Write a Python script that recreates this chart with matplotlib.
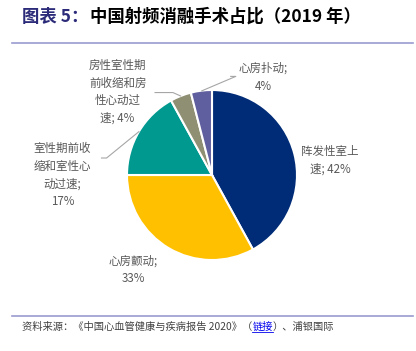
import matplotlib
matplotlib.use("Agg")
import matplotlib.pyplot as plt
from matplotlib.lines import Line2D

plt.rcParams['font.family'] = ['Noto Sans CJK SC', 'DejaVu Sans']

# data
labels = ["阵发性室上\n速; 42%", "心房颤动;\n33%", "室性期前收\n缩和室性心\n动过速;\n17%",
          "房性室性期\n前收缩和房\n性心动过\n速; 4%", "心房扑动;\n4%"]
shares = [42, 33, 17, 4, 4]
colors = ["#002C77", "#FFC000", "#00998F", "#8E8F73", "#5F5F9F"]

title_head = "图表 5："
title_body = "中国射频消融手术占比（2019 年）"
source_parts = ["资料来源：《中国心血管健康与疾病报告 2020》（", "链接", "）、浦银国际"]

fig = plt.figure(figsize=(4.16, 3.51), dpi=100)
W, H = 416, 351

cx, cy, r = 212, 175, 85
ax = fig.add_axes([(cx - r) / W, (H - cy - r) / H, 2 * r / W, 2 * r / H])
wedges, _ = ax.pie(shares, colors=colors, startangle=90, counterclock=False,
                   wedgeprops=dict(edgecolor="white", linewidth=1.5))
ax.set_xlim(-1, 1)
ax.set_ylim(-1, 1)
ax.set_aspect("equal")
ax.axis("off")

txt = dict(fontsize=8.3, color="#595959", ha="center", va="center",
           linespacing=1.45, clip_on=False)
lc = "#A6A6A6"

# label positions in data units (radius = 1)
ax.text(1.39, 0.17, labels[0], **txt)
ax.text(-0.93, -1.12, labels[1], **txt)
ax.text(-1.76, 0.0, labels[2], **txt)
ax.text(-1.11, 0.98, labels[3], **txt)
ax.text(0.60, 1.15, labels[4], **txt)

# leader lines
ax.add_line(Line2D([-1.30, -1.24, -0.86], [0.20, 0.20, 0.51], color=lc, lw=0.8, clip_on=False))
ax.add_line(Line2D([-0.67, -0.46, -0.37], [0.97, 0.97, 0.93], color=lc, lw=0.8, clip_on=False))
ax.add_line(Line2D([0.22, 0.28, -0.12], [1.16, 1.16, 0.99], color=lc, lw=0.8, clip_on=False))

# title
t1 = fig.text(22 / W, 1 - 17 / H, title_head, fontsize=12.5, fontweight="bold",
              color="#2B2B7A", va="center", ha="left")
fig.canvas.draw()
rend = fig.canvas.get_renderer()
bb = t1.get_window_extent(rend)
fig.text(bb.x1 / W + 2 / W, 1 - 17 / H, title_body, fontsize=12.5, fontweight="bold",
         color="black", va="center", ha="left")

fig.add_artist(Line2D([12 / W, 413 / W], [1 - 43 / H, 1 - 43 / H], color="#9B9BCF", lw=1.2))
fig.add_artist(Line2D([12 / W, 413 / W], [1 - 316 / H, 1 - 316 / H], color="#9B9BCF", lw=1.2))

# source line with blue link
x = 22
for i, part in enumerate(source_parts):
    col = "#0000EE" if i == 1 else "#404040"
    t = fig.text(x / W, 1 - 327 / H, part, fontsize=7.4, color=col, va="center", ha="left")
    fig.canvas.draw()
    b = t.get_window_extent(rend)
    if i == 1:
        fig.add_artist(Line2D([b.x0 / W, b.x1 / W], [b.y0 / H, b.y0 / H], color=col, lw=0.6))
    x = b.x1

fig.savefig("out.png", dpi=100)
